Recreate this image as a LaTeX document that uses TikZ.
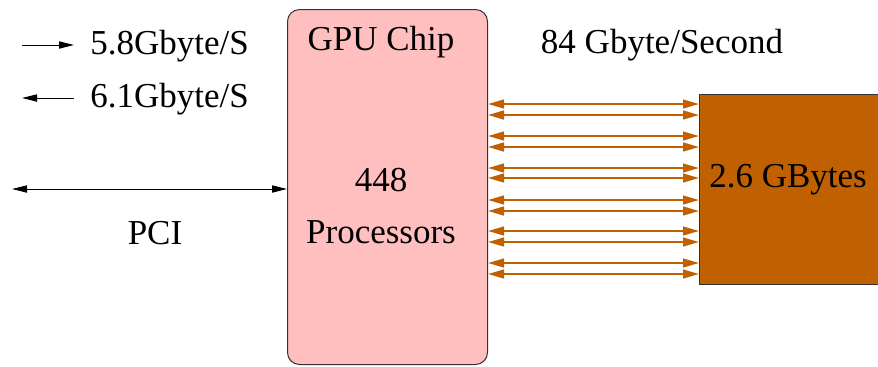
\documentclass[tikz,border=0pt]{standalone}
\usepackage{fontspec}
\setmainfont{Liberation Serif}
\usetikzlibrary{arrows.meta}
\definecolor{chippink}{HTML}{FFBFBF}
\definecolor{membrown}{HTML}{C06000}
\definecolor{edgegray}{HTML}{333333}
\begin{document}
\begin{tikzpicture}[x=0.5pt,y=-0.5pt,
  lbl/.style={font=\fontsize{17.5}{21}\selectfont, inner sep=0pt},
  blackarrow/.style={line width=0.5pt, draw=black},
  bkhead/.style={Triangle[length=7.5pt,width=3.6pt]},
  busarrow/.style={line width=1pt, draw=membrown, {Triangle[length=8pt,width=4.4pt]}-{Triangle[length=8pt,width=4.4pt]}},
]
\useasboundingbox (0,0) rectangle (878,366);
% GPU chip
\node[draw=edgegray, line width=0.5pt, fill=chippink, rounded corners=6pt,
      minimum width=100pt, minimum height=177.5pt, inner sep=0pt, anchor=north west]
      (gpu) at (287,9) {};
% Memory
\node[draw=edgegray, line width=0.5pt, fill=membrown, minimum width=91pt,
      minimum height=95pt, inner sep=0pt, anchor=north west] (mem) at (699,94) {};
% Texts
\node[lbl] (gputxt) at (381,42) {GPU Chip};
\node[lbl] (n448) at (381,180) {448};
\node[lbl] (proc) at (381,232) {Processors};
\node[lbl] (bw) at (662,45) {84 Gbyte/Second};
\node[lbl] (memtxt) at (788,180) {2.6 GBytes};
\node[lbl] (pci) at (155,233) {PCI};
\node[lbl, anchor=west] (up) at (90,46) {5.8Gbyte/S};
\node[lbl, anchor=west] (down) at (90,99) {6.1Gbyte/S};
% legend arrows
\coordinate (l1a) at (22,45); \coordinate (l1b) at (74,45);
\coordinate (l2a) at (22,98); \coordinate (l2b) at (74,98);
\draw[blackarrow, -{Triangle[length=7.5pt,width=3.6pt]}] (l1a) -- (l1b);
\draw[blackarrow, {Triangle[length=7.5pt,width=3.6pt]}-] (l2a) -- (l2b);
% PCI arrow
\coordinate (pcil) at (12,189);
\draw[blackarrow, {Triangle[length=7.5pt,width=3.6pt]}-{Triangle[length=7.5pt,width=3.6pt]}] (pcil) -- (gpu.west |- pcil);
% bus arrows
\foreach \yy in {104,115,136,147,168,178,200,211,231,242,263,274}{
  \coordinate (b) at (0,\yy);
  \draw[busarrow] (gpu.east |- b) -- (mem.west |- b);
}
\end{tikzpicture}
\end{document}
